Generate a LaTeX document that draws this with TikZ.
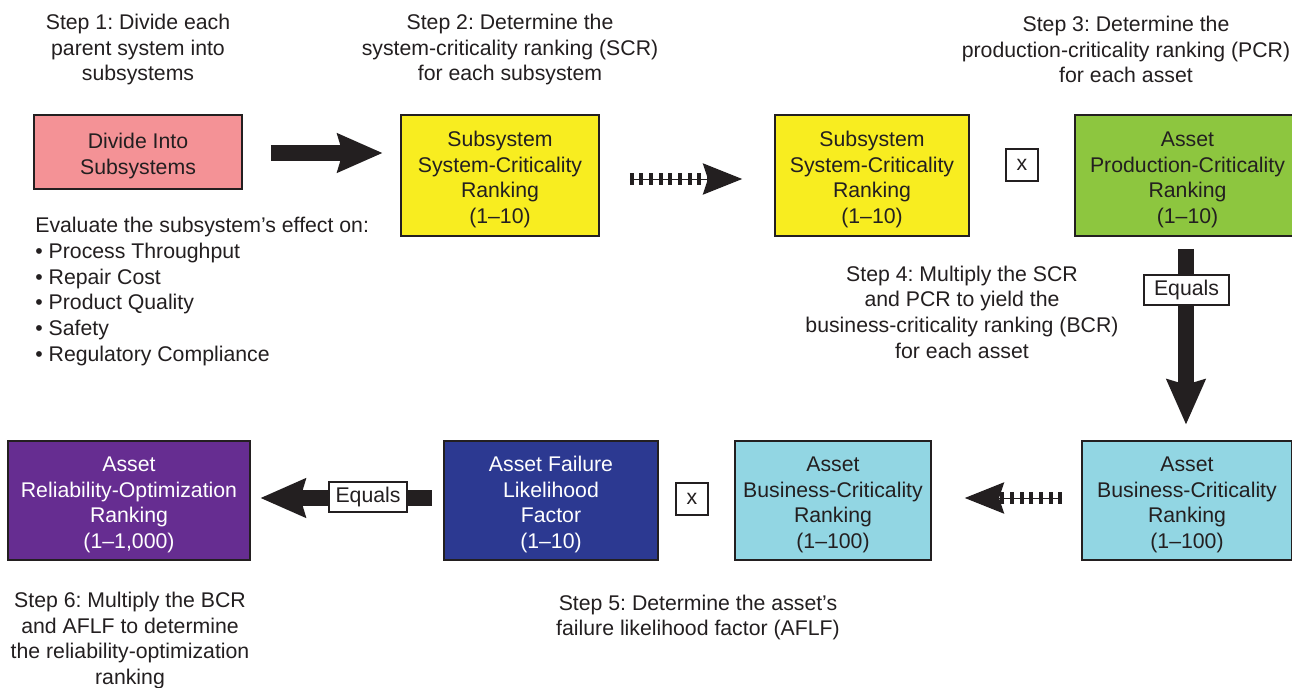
\documentclass[tikz,border=0pt]{standalone}
\usepackage{fontspec}
\setmainfont{Liberation Sans}
\usetikzlibrary{arrows.meta,calc}
\definecolor{cpink}{RGB}{244,146,150}
\definecolor{cyellow}{RGB}{248,237,32}
\definecolor{cgreen}{RGB}{141,198,63}
\definecolor{ccyan}{RGB}{146,214,227}
\definecolor{cblue}{RGB}{44,57,145}
\definecolor{cpurple}{RGB}{102,45,145}
\definecolor{ink}{RGB}{35,31,32}
\newcommand{\boxstrut}{\rule{0pt}{13.5pt}}
\frenchspacing
\begin{document}
\begin{tikzpicture}[x=0.02cm,y=-0.02cm,
  txt/.style={font=\fontsize{12.1}{14.6}\selectfont, text=ink, align=center, inner sep=0pt},
  box/.style={txt, draw=ink, line width=0.9pt, rectangle},
  xbox/.style={txt, draw=ink, fill=white, line width=0.9pt, minimum width=0.64cm, minimum height=0.64cm},
  eqbox/.style={txt, draw=ink, fill=white, line width=0.9pt, minimum height=0.6cm},
  solidarrow/.style={draw=ink, line width=9pt, -{Stealth[length=26pt,width=23pt,inset=3.5pt,line width=0pt]}},
  dasharrow/.style={draw=ink, line width=6.8pt, dash pattern=on 2.3pt off 3.2pt, -{Stealth[length=22.5pt,width=18pt,inset=3pt,line width=0pt]}},
  thinline/.style={draw=ink, line width=0.5pt}
]
\clip (0,0) rectangle (1292,687);
\fill[white] (0,0) rectangle (1292,687);

% boxes
\node[box, fill=cpink, minimum width=4.16cm, minimum height=1.48cm] (divide) at (138,152) {\boxstrut Divide Into\\Subsystems};
\node[box, fill=cyellow, minimum width=3.96cm, minimum height=2.42cm] (scrA) at (500,175.5) {\boxstrut Subsystem\\System-Criticality\\Ranking\\(1–10)};
\node[box, fill=cyellow, minimum width=3.88cm, minimum height=2.42cm] (scrB) at (872,175.5) {\boxstrut Subsystem\\System-Criticality\\Ranking\\(1–10)};
\node[xbox] (xA) at (1022,165) {x};
\node[box, fill=cgreen, minimum width=4.5cm, minimum height=2.42cm] (pcr) at (1187.5,175.5) {\boxstrut Asset\\Production-Criticality\\Ranking\\(1–10)};
\node[box, fill=ccyan, minimum width=4.2cm, minimum height=2.38cm] (bcrB) at (1187,500.5) {\boxstrut Asset\\Business-Criticality\\Ranking\\(1–100)};
\node[box, fill=ccyan, minimum width=3.92cm, minimum height=2.38cm] (bcrA) at (833,500.5) {\boxstrut Asset\\Business-Criticality\\Ranking\\(1–100)};
\node[xbox] (xB) at (692,499) {x};
\node[box, fill=cblue, text=white, minimum width=4.28cm, minimum height=2.38cm] (aflf) at (551,500.5) {\boxstrut Asset Failure\\Likelihood\\Factor\\(1–10)};
\node[box, fill=cpurple, text=white, minimum width=4.84cm, minimum height=2.38cm] (rop) at (129,500.5) {\boxstrut Asset\\Reliability-Optimization\\Ranking\\(1–1,000)};

% arrows
\draw[solidarrow] ($(divide.east)+(28,1)$) -- ($(scrA.west)+(-18,-22.5)$);

\draw[thinline] ($(scrA.east)+(30,3.5)$) -- ($(scrB.west)+(-38,3.5)$);
\draw[dasharrow] ($(scrA.east)+(30,3.5)$) -- ($(scrB.west)+(-32,3.5)$);

\draw[solidarrow] ($(pcr.south)+(-1.5,12)$) -- ($(bcrB.north)+(-1,-16)$);
\node[eqbox, minimum width=1.7cm] (eqA) at (1186.5,290) {Equals};

\draw[thinline] ($(bcrB.west)+(-19,-2.5)$) -- ($(bcrA.east)+(66,-2.5)$);
\draw[dasharrow] ($(bcrB.west)+(-19,-2.5)$) -- ($(bcrA.east)+(33,-2.5)$);

\draw[solidarrow] ($(aflf.west)+(-11,-2.5)$) -- ($(rop.east)+(10,-2.5)$);
\node[eqbox, minimum width=1.56cm] (eqB) at (368,497) {Equals};

% texts
\node[txt] (s1) at (138,49.5) {Step 1: Divide each\\parent system into\\subsystems};
\node[txt] (s2) at (510,49.5) {Step 2: Determine the\\system-criticality ranking (SCR)\\for each subsystem};
\node[txt] (s3) at (1126,49.5) {Step 3: Determine the\\production-criticality ranking (PCR)\\for each asset};
\node[txt, align=left, anchor=west] (eval) at (35,291.5) {Evaluate the subsystem’s effect on:\\• Process Throughput\\• Repair Cost\\• Product Quality\\• Safety\\• Regulatory Compliance};
\node[txt] (s4) at (962,312) {Step 4: Multiply the SCR\\and PCR to yield the\\business-criticality ranking (BCR)\\for each asset};
\node[txt] (s5) at (698,617.5) {Step 5: Determine the asset’s\\failure likelihood factor (AFLF)};
\node[txt] (s6) at (130,640.5) {Step 6: Multiply the BCR\\and AFLF to determine\\the reliability-optimization\\ranking};
\end{tikzpicture}
\end{document}
